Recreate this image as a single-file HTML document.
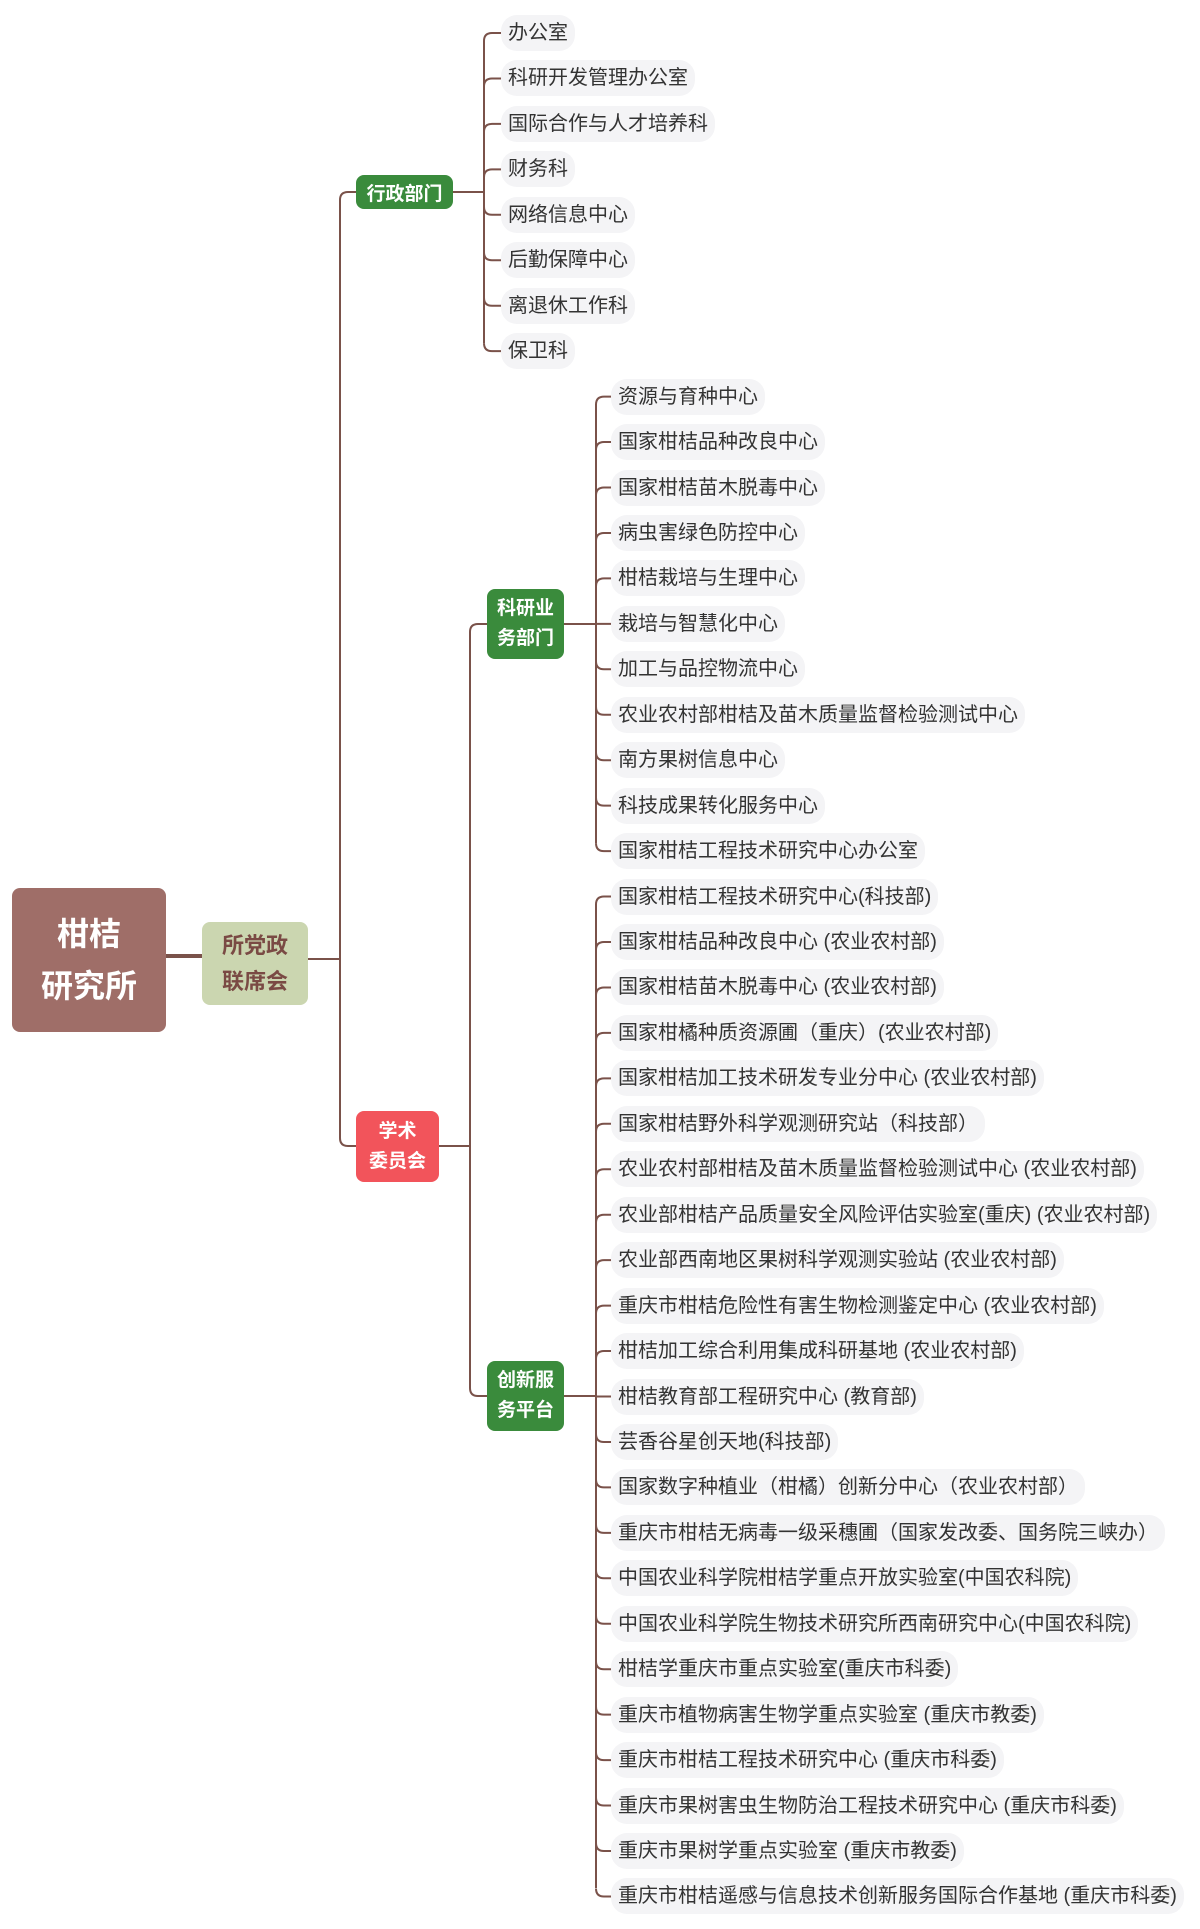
<!DOCTYPE html>
<html><head><meta charset="utf-8">
<style>
body{margin:0;width:1200px;height:1929px;background:#fff;position:relative;overflow:hidden;font-family:"Liberation Sans","Noto Sans CJK SC",sans-serif;}
.p{position:absolute;height:36px;line-height:36px;padding:0 7px;background:#f4f4f6;border-radius:16px;font-size:20px;color:#333;white-space:nowrap;}
.n{position:absolute;display:flex;align-items:center;justify-content:center;text-align:center;font-weight:bold;color:#fff;border-radius:8px;}
svg{position:absolute;left:0;top:0;}
</style></head><body>
<svg width="1200" height="1929" fill="none" stroke="#7a524a" stroke-width="2">
<path d="M166,956 L202,956" stroke-width="4"/>
<path d="M308,959 L340,959"/>
<path d="M356,192 L348,192 Q340,192 340,200 L340,1138 Q340,1146 348,1146 L356,1146"/>
<path d="M439,1146 L470,1146"/>
<path d="M487,624 L478,624 Q470,624 470,632 L470,1388 Q470,1396 478,1396 L487,1396"/>
<path d="M453,192 L484,192"/>
<path d="M484,41 L484,343"/>
<path d="M564,624 L596,624"/>
<path d="M596,404 L596,843"/>
<path d="M564,1396 L596,1396"/>
<path d="M596,904 L596,1888"/>
<path d="M484,41 Q484,33 492,33 L501,33 M484,86.45 Q484,78.45 492,78.45 L501,78.45 M484,131.9 Q484,123.9 492,123.9 L501,123.9 M484,177.35 Q484,169.35 492,169.35 L501,169.35 M484,206.8 Q484,214.8 492,214.8 L501,214.8 M484,252.25 Q484,260.25 492,260.25 L501,260.25 M484,297.7 Q484,305.7 492,305.7 L501,305.7 M484,343.15 Q484,351.15 492,351.15 L501,351.15"/>
<path d="M596,404.6 Q596,396.6 604,396.6 L611,396.6 M596,450.05 Q596,442.05 604,442.05 L611,442.05 M596,495.5 Q596,487.5 604,487.5 L611,487.5 M596,540.95 Q596,532.95 604,532.95 L611,532.95 M596,586.4 Q596,578.4 604,578.4 L611,578.4 M596,623.85 L611,623.85 M596,661.3 Q596,669.3 604,669.3 L611,669.3 M596,706.75 Q596,714.75 604,714.75 L611,714.75 M596,752.2 Q596,760.2 604,760.2 L611,760.2 M596,797.65 Q596,805.65 604,805.65 L611,805.65 M596,843.1 Q596,851.1 604,851.1 L611,851.1"/>
<path d="M596,904.55 Q596,896.55 604,896.55 L611,896.55 M596,950 Q596,942 604,942 L611,942 M596,995.45 Q596,987.45 604,987.45 L611,987.45 M596,1040.9 Q596,1032.9 604,1032.9 L611,1032.9 M596,1086.35 Q596,1078.35 604,1078.35 L611,1078.35 M596,1131.8 Q596,1123.8 604,1123.8 L611,1123.8 M596,1177.25 Q596,1169.25 604,1169.25 L611,1169.25 M596,1222.7 Q596,1214.7 604,1214.7 L611,1214.7 M596,1268.15 Q596,1260.15 604,1260.15 L611,1260.15 M596,1313.6 Q596,1305.6 604,1305.6 L611,1305.6 M596,1359.05 Q596,1351.05 604,1351.05 L611,1351.05 M596,1396.5 L611,1396.5 M596,1433.95 Q596,1441.95 604,1441.95 L611,1441.95 M596,1479.4 Q596,1487.4 604,1487.4 L611,1487.4 M596,1524.85 Q596,1532.85 604,1532.85 L611,1532.85 M596,1570.3 Q596,1578.3 604,1578.3 L611,1578.3 M596,1615.75 Q596,1623.75 604,1623.75 L611,1623.75 M596,1661.2 Q596,1669.2 604,1669.2 L611,1669.2 M596,1706.65 Q596,1714.65 604,1714.65 L611,1714.65 M596,1752.1 Q596,1760.1 604,1760.1 L611,1760.1 M596,1797.55 Q596,1805.55 604,1805.55 L611,1805.55 M596,1843 Q596,1851 604,1851 L611,1851 M596,1888.45 Q596,1896.45 604,1896.45 L611,1896.45"/>
</svg>

<div class="n" style="left:12px;top:888px;width:154px;height:144px;background:#9f6e68;font-size:32px;line-height:52px;">柑桔<br>研究所</div>
<div class="n" style="left:202px;top:922px;width:106px;height:83px;background:#cbd6b0;color:#7a4a44;font-size:22px;line-height:36px;">所党政<br>联席会</div>
<div class="n" style="left:356px;top:175px;width:97px;height:34px;background:#3a8b3c;font-size:19px;">行政部门</div>
<div class="n" style="left:356px;top:1111px;width:83px;height:71px;background:#f2545b;font-size:19px;line-height:30px;">学术<br>委员会</div>
<div class="n" style="left:487px;top:589px;width:77px;height:70px;background:#3a8b3c;font-size:19px;line-height:30px;">科研业<br>务部门</div>
<div class="n" style="left:487px;top:1361px;width:77px;height:70px;background:#3a8b3c;font-size:19px;line-height:30px;">创新服<br>务平台</div>

<div class="p" style="left:501px;top:15px">办公室</div>
<div class="p" style="left:501px;top:60.45px">科研开发管理办公室</div>
<div class="p" style="left:501px;top:105.9px">国际合作与人才培养科</div>
<div class="p" style="left:501px;top:151.35px">财务科</div>
<div class="p" style="left:501px;top:196.8px">网络信息中心</div>
<div class="p" style="left:501px;top:242.25px">后勤保障中心</div>
<div class="p" style="left:501px;top:287.7px">离退休工作科</div>
<div class="p" style="left:501px;top:333.15px">保卫科</div>

<div class="p" style="left:611px;top:378.6px">资源与育种中心</div>
<div class="p" style="left:611px;top:424.05px">国家柑桔品种改良中心</div>
<div class="p" style="left:611px;top:469.5px">国家柑桔苗木脱毒中心</div>
<div class="p" style="left:611px;top:514.95px">病虫害绿色防控中心</div>
<div class="p" style="left:611px;top:560.4px">柑桔栽培与生理中心</div>
<div class="p" style="left:611px;top:605.85px">栽培与智慧化中心</div>
<div class="p" style="left:611px;top:651.3px">加工与品控物流中心</div>
<div class="p" style="left:611px;top:696.75px">农业农村部柑桔及苗木质量监督检验测试中心</div>
<div class="p" style="left:611px;top:742.2px">南方果树信息中心</div>
<div class="p" style="left:611px;top:787.65px">科技成果转化服务中心</div>
<div class="p" style="left:611px;top:833.1px">国家柑桔工程技术研究中心办公室</div>

<div class="p" style="left:611px;top:878.55px">国家柑桔工程技术研究中心(科技部)</div>
<div class="p" style="left:611px;top:924px">国家柑桔品种改良中心 (农业农村部)</div>
<div class="p" style="left:611px;top:969.45px">国家柑桔苗木脱毒中心 (农业农村部)</div>
<div class="p" style="left:611px;top:1014.9px">国家柑橘种质资源圃（重庆）(农业农村部)</div>
<div class="p" style="left:611px;top:1060.35px">国家柑桔加工技术研发专业分中心 (农业农村部)</div>
<div class="p" style="left:611px;top:1105.8px">国家柑桔野外科学观测研究站（科技部）</div>
<div class="p" style="left:611px;top:1151.25px">农业农村部柑桔及苗木质量监督检验测试中心 (农业农村部)</div>
<div class="p" style="left:611px;top:1196.7px">农业部柑桔产品质量安全风险评估实验室(重庆) (农业农村部)</div>
<div class="p" style="left:611px;top:1242.15px">农业部西南地区果树科学观测实验站 (农业农村部)</div>
<div class="p" style="left:611px;top:1287.6px">重庆市柑桔危险性有害生物检测鉴定中心 (农业农村部)</div>
<div class="p" style="left:611px;top:1333.05px">柑桔加工综合利用集成科研基地 (农业农村部)</div>
<div class="p" style="left:611px;top:1378.5px">柑桔教育部工程研究中心 (教育部)</div>
<div class="p" style="left:611px;top:1423.95px">芸香谷星创天地(科技部)</div>
<div class="p" style="left:611px;top:1469.4px">国家数字种植业（柑橘）创新分中心（农业农村部）</div>
<div class="p" style="left:611px;top:1514.85px">重庆市柑桔无病毒一级采穗圃（国家发改委、国务院三峡办）</div>
<div class="p" style="left:611px;top:1560.3px">中国农业科学院柑桔学重点开放实验室(中国农科院)</div>
<div class="p" style="left:611px;top:1605.75px">中国农业科学院生物技术研究所西南研究中心(中国农科院)</div>
<div class="p" style="left:611px;top:1651.2px">柑桔学重庆市重点实验室(重庆市科委)</div>
<div class="p" style="left:611px;top:1696.65px">重庆市植物病害生物学重点实验室 (重庆市教委)</div>
<div class="p" style="left:611px;top:1742.1px">重庆市柑桔工程技术研究中心 (重庆市科委)</div>
<div class="p" style="left:611px;top:1787.55px">重庆市果树害虫生物防治工程技术研究中心 (重庆市科委)</div>
<div class="p" style="left:611px;top:1833px">重庆市果树学重点实验室 (重庆市教委)</div>
<div class="p" style="left:611px;top:1878.45px">重庆市柑桔遥感与信息技术创新服务国际合作基地 (重庆市科委)</div>
</body></html>
